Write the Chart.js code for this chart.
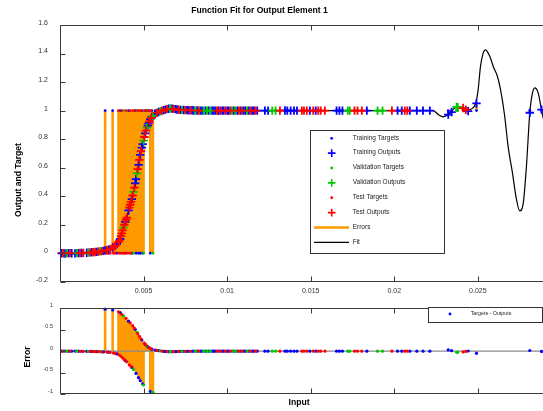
<!DOCTYPE html>
<html>
<head>
<meta charset="utf-8">
<script src="https://cdn.jsdelivr.net/npm/chart.js@4.4.0/dist/chart.umd.min.js"></script>
<style>
    body { margin: 0; background: #fff; }
    canvas { display: block; }
</style>
</head>
<body>
<canvas id="fit_chart" width="543" height="298"></canvas>
<canvas id="error_chart" width="543" height="113"></canvas>
<script>
// axis range and ticks
var xMin = 0;
var xMax = 0.0289;
var xTicks = [0.005, 0.01, 0.015, 0.02, 0.025];
var xTickLabels = ['0.005', '0.01', '0.015', '0.02', '0.025'];
var fitYTicks = [-0.2, 0, 0.2, 0.4, 0.6, 0.8, 1, 1.2, 1.4, 1.6];
var fitYTickLabels = ['-0.2', '0', '0.2', '0.4', '0.6', '0.8', '1', '1.2', '1.4', '1.6'];
var errYTicks = [-1, -0.5, 0, 0.5, 1];
var errYTickLabels = ['-1', '-0.5', '0', '0.5', '1'];

// training set
var trainInput = [
    0.0001, 0.0003, 0.0005, 0.0007, 0.0009, 0.0011, 0.0013, 0.0016, 0.0019, 0.0022, 0.0026,
    0.0027, 0.0029, 0.00315, 0.0034, 0.0036, 0.0039, 0.0041, 0.0043, 0.0045, 0.00455,
    0.0047, 0.0048, 0.0049, 0.00495, 0.0051, 0.00525, 0.0053, 0.0054, 0.0055, 0.0057,
    0.0059, 0.0062, 0.0063, 0.0065, 0.0067, 0.0069, 0.0070, 0.0072, 0.0074, 0.0076,
    0.0077, 0.0079, 0.0080, 0.0082, 0.0084, 0.0085, 0.0087, 0.0089, 0.0091, 0.0092,
    0.0093, 0.0095, 0.0097, 0.0098, 0.0100, 0.0101, 0.0104, 0.0106, 0.0108, 0.0110,
    0.0111, 0.0113, 0.0115, 0.0116, 0.0118,
    0.01226, 0.01245, 0.01346, 0.0136, 0.0138, 0.0140, 0.01418, 0.01495, 0.0153, 0.01655,
    0.01672, 0.0169, 0.01836, 0.0202, 0.02045, 0.02093, 0.02135, 0.02172, 0.02213,
    0.02323, 0.02343, 0.02442, 0.02492, 0.02811, 0.02881
];
var trainTarget = [
    0, 0, 0, 0, 0, 0, 0, 0, 0, 0, 0,
    1, 0, 1, 0, 1, 0, 1, 0, 1, 0,
    0, 0, 1, 0, 1, 1, 1, 0, 1, 1,
    1, 1, 1, 1, 1, 1, 1, 1, 1, 1,
    1, 1, 1, 1, 1, 1, 1, 1, 1, 1,
    1, 1, 1, 1, 1, 1, 1, 1, 1, 1,
    1, 1, 1, 1, 1,
    1, 1, 1, 1, 1, 1, 1, 1, 1, 1,
    1, 1, 1, 1, 1, 1, 1, 1, 1,
    1, 1, 1, 1, 1, 1
];
var trainOutput = [
    0.000, -0.002, 0.001, 0.000, -0.001, 0.001, 0.002, 0.004, 0.007, 0.010, 0.017,
    0.020, 0.025, 0.040, 0.065, 0.100, 0.220, 0.300, 0.380, 0.490, 0.520,
    0.620, 0.690, 0.740, 0.765, 0.840, 0.895, 0.910, 0.940, 0.955, 0.975,
    0.990, 1.003, 1.007, 1.013, 1.014, 1.010, 1.008, 1.005, 1.004, 1.003,
    1.002, 1.002, 1.001, 1.001, 1.000, 1.000, 1.000, 1.000, 1.000, 1.000,
    1.000, 0.999, 1.000, 1.000, 1.000, 1.000, 1.000, 1.000, 1.000, 1.000,
    1.000, 1.000, 1.000, 1.000, 1.000,
    1.000, 1.000, 1.001, 1.000, 1.000, 1.000, 1.000, 1.000, 1.000, 1.000,
    1.000, 1.000, 1.000, 1.000, 1.000, 1.000, 1.000, 1.000, 1.000,
    0.972, 0.990, 0.996, 1.050, 0.985, 1.007
];

// validation set
var valInput = [
    0.0004, 0.0010, 0.0017, 0.0024, 0.0038, 0.0044, 0.0046, 0.0050, 0.0052, 0.00556,
    0.0060, 0.0066, 0.0073, 0.0081, 0.0086, 0.0088, 0.0090, 0.0103, 0.0105, 0.0112,
    0.0127, 0.0129, 0.01722, 0.01734, 0.0190, 0.0193, 0.02373, 0.0238
];
var valTarget = [
    0, 0, 0, 0, 1, 0, 1, 0, 1, 0,
    1, 1, 1, 1, 1, 1, 1, 1, 1, 1,
    1, 1, 1, 1, 1, 1, 1, 1
];
var valOutput = [
    0.000, 0.001, 0.005, 0.013, 0.180, 0.430, 0.560, 0.790, 0.880, 0.962,
    0.995, 1.015, 1.005, 1.001, 1.000, 1.000, 1.000, 1.000, 1.000, 1.000,
    1.000, 1.000, 1.000, 1.000, 1.000, 1.000, 1.026, 1.024
];

// test set
var testInput = [
    0.0002, 0.0006, 0.0012, 0.0014, 0.0018, 0.0020, 0.0021, 0.0023, 0.0025,
    0.0028, 0.0030, 0.0032, 0.0033, 0.0035, 0.00355, 0.00365, 0.0037, 0.00375, 0.00385,
    0.00395, 0.0040, 0.00415, 0.0042, 0.00425, 0.00435, 0.00445, 0.00465, 0.00475, 0.00485,
    0.00505, 0.00515, 0.00535, 0.00545, 0.0058,
    0.0061, 0.0064, 0.0068, 0.0071, 0.0075, 0.0078, 0.0083, 0.0094, 0.0096, 0.0099,
    0.0102, 0.0107, 0.0109, 0.0114, 0.0117,
    0.01316, 0.01447, 0.0146, 0.01477, 0.01515, 0.01545, 0.0156, 0.01585, 0.01762, 0.0178,
    0.01806, 0.01986, 0.02063, 0.02078,
    0.02412, 0.02428
];
var testTarget = [
    0, 0, 0, 0, 0, 0, 0, 0, 0,
    0, 0, 0, 0, 1, 0, 0, 1, 0, 0,
    1, 0, 0, 1, 0, 1, 1, 1, 1, 1,
    1, 1, 1, 1, 1,
    1, 1, 1, 1, 1, 1, 1, 1, 1, 1,
    1, 1, 1, 1, 1,
    1, 1, 1, 1, 1, 1, 1, 1, 1, 1,
    1, 1, 1, 1,
    1, 1
];
var testOutput = [
    0.000, 0.001, 0.002, 0.003, 0.006, 0.008, 0.009, 0.012, 0.015,
    0.022, 0.030, 0.045, 0.050, 0.080, 0.090, 0.120, 0.140, 0.160, 0.200,
    0.235, 0.250, 0.320, 0.340, 0.360, 0.405, 0.460, 0.590, 0.655, 0.715,
    0.815, 0.860, 0.925, 0.948, 0.984,
    0.999, 1.010, 1.012, 1.006, 1.003, 1.002, 1.000, 1.000, 1.000, 1.000,
    1.000, 1.000, 1.000, 1.000, 1.000,
    1.000, 1.000, 1.000, 1.000, 1.000, 1.000, 1.000, 1.000, 1.000, 1.000,
    1.000, 1.000, 1.000, 1.000,
    1.018, 1.006
];

// network fit curve
var fitInput = [
    0, 0.0010, 0.0015, 0.0020, 0.0025, 0.0028, 0.0030, 0.0032, 0.0034, 0.0035,
    0.0036, 0.0037, 0.0038, 0.0039, 0.0040, 0.0041, 0.0042, 0.0043, 0.0044, 0.0045,
    0.0046, 0.0047, 0.0048, 0.0049, 0.0050, 0.0051, 0.0052, 0.0053, 0.0054, 0.0055,
    0.0056, 0.0057, 0.0058, 0.0059, 0.0060, 0.0062, 0.0064, 0.0066, 0.0068, 0.0070,
    0.0075, 0.0080, 0.0090, 0.0120, 0.0160, 0.0200, 0.0220, 0.02233, 0.02263, 0.02293,
    0.02323, 0.02352, 0.02372, 0.02402, 0.02432, 0.02462, 0.02488, 0.02502, 0.02516, 0.02532,
    0.02546, 0.02572, 0.02596, 0.02616, 0.02636, 0.02661, 0.02681, 0.02707, 0.02731, 0.02751,
    0.02771, 0.02791, 0.02811, 0.02825, 0.02841, 0.02861, 0.02881, 0.0290
];
var fitOutput = [
    0.000, 0.001, 0.003, 0.008, 0.015, 0.022, 0.030, 0.045, 0.065, 0.080,
    0.100, 0.140, 0.180, 0.220, 0.250, 0.300, 0.340, 0.380, 0.430, 0.490,
    0.560, 0.620, 0.690, 0.740, 0.790, 0.840, 0.880, 0.910, 0.940, 0.955,
    0.965, 0.975, 0.984, 0.990, 0.995, 1.003, 1.010, 1.015, 1.012, 1.008,
    1.003, 1.001, 1.000, 1.000, 1.000, 1.000, 1.000, 1.000, 0.972, 0.956,
    0.972, 1.007, 1.026, 1.019, 1.000, 1.012, 1.054, 1.147, 1.310, 1.403,
    1.426, 1.379, 1.298, 1.244, 1.147, 0.960, 0.751, 0.565, 0.379, 0.297,
    0.344, 0.612, 0.984, 1.112, 1.159, 1.124, 1.007, 0.900
];

var fontFamily = '"Liberation Sans", Arial, Helvetica, sans-serif';
var blue = '#0000ff';
var green = '#00c800';
var red = '#ff0000';
var orange = '#ff9900';

function points(xs, ys) {
    return xs.map(function (x, i) { return {x: x, y: ys[i]}; });
}

// vertical segments from a[i] to b[i], broken by null points
function segments(xs, a, b) {
    var segs = [];
    xs.forEach(function (x, i) {
        segs.push({x: x, y: a[i]}, {x: x, y: b[i]}, {x: x, y: null});
    });
    return segs;
}

function minus(a, b) {
    return a.map(function (v, i) { return v - b[i]; });
}

var allInput = trainInput.concat(valInput, testInput);
var allTarget = trainTarget.concat(valTarget, testTarget);
var allOutput = trainOutput.concat(valOutput, testOutput);

var trainError = minus(trainTarget, trainOutput);
var valError = minus(valTarget, valOutput);
var testError = minus(testTarget, testOutput);
var allError = trainError.concat(valError, testError);

function dotSet(label, data, color, order, r, inLegend) {
    return {label: label, data: data, legendMark: inLegend ? 'dot' : null, showLine: false, clip: false,
        pointStyle: 'circle', pointRadius: r, pointBackgroundColor: color,
        pointBorderWidth: 0, borderColor: color, backgroundColor: color, order: order};
}

function crossSet(label, data, color, order) {
    return {label: label, data: data, legendMark: 'cross', showLine: false, clip: false,
        pointStyle: 'cross', pointRadius: 4.2, pointBorderColor: color,
        pointBorderWidth: 1.8, borderColor: color, backgroundColor: color, order: order};
}

// axes box with inward ticks, like the original figure
var framePlugin = {
    id: 'frame',
    afterDatasetsDraw: function (chart) {
        var ctx = chart.ctx, a = chart.chartArea;
        var xs = chart.scales.x, ys = chart.scales.y;
        var L = Math.round(a.left) + 0.5, T = Math.round(a.top) + 0.5, B = Math.round(a.bottom) - 0.5;
        ctx.save();
        ctx.strokeStyle = '#3a3a3a';
        ctx.lineWidth = 1;
        ctx.beginPath();
        ctx.moveTo(chart.width, T);
        ctx.lineTo(L, T);
        ctx.lineTo(L, B);
        ctx.lineTo(chart.width, B);
        xs.ticks.forEach(function (t) {
            var px = Math.round(xs.getPixelForValue(t.value)) + 0.5;
            ctx.moveTo(px, T); ctx.lineTo(px, T + 5);
            ctx.moveTo(px, B); ctx.lineTo(px, B - 5);
        });
        ys.ticks.forEach(function (t) {
            var py = Math.round(ys.getPixelForValue(t.value)) + 0.5;
            ctx.moveTo(L, py); ctx.lineTo(L + 5, py);
        });
        ctx.stroke();
        ctx.restore();
    }
};

var textPlugin = {
    id: 'texts',
    afterDraw: function (chart, args, opts) {
        var ctx = chart.ctx;
        opts.items.forEach(function (it) {
            ctx.save();
            ctx.fillStyle = it.color || '#000';
            ctx.font = (it.bold ? 'bold ' : '') + it.size + 'px ' + fontFamily;
            ctx.textAlign = 'center';
            ctx.textBaseline = 'middle';
            ctx.translate(it.x, it.y);
            if (it.rotate) ctx.rotate(-Math.PI / 2);
            ctx.fillText(it.text, 0, 0);
            ctx.restore();
        });
    }
};

var legendPlugin = {
    id: 'boxLegend',
    afterDraw: function (chart, args, o) {
        var ctx = chart.ctx;
        ctx.save();
        ctx.fillStyle = '#fff';
        ctx.fillRect(o.left, o.top, o.right - o.left, o.bottom - o.top);
        ctx.strokeStyle = '#333';
        ctx.lineWidth = 1;
        ctx.strokeRect(o.left + 0.5, o.top + 0.5, o.right - o.left, o.bottom - o.top);
        var row = 0;
        chart.data.datasets.forEach(function (ds) {
            if (!ds.legendMark) return;
            var y = o.firstY + row * o.rowHeight;
            row++;
            if (ds.legendMark === 'dot') {
                ctx.fillStyle = ds.borderColor;
                ctx.beginPath();
                ctx.arc(o.markX, y, 1.4, 0, Math.PI * 2);
                ctx.fill();
            } else if (ds.legendMark === 'cross') {
                ctx.strokeStyle = ds.borderColor;
                ctx.lineWidth = 1.6;
                ctx.beginPath();
                ctx.moveTo(o.markX - 3.8, y); ctx.lineTo(o.markX + 3.8, y);
                ctx.moveTo(o.markX, y - 3.8); ctx.lineTo(o.markX, y + 3.8);
                ctx.stroke();
            } else {
                ctx.strokeStyle = ds.borderColor;
                ctx.lineWidth = ds.borderWidth;
                ctx.beginPath();
                ctx.moveTo(o.lineFrom, y); ctx.lineTo(o.lineTo, y);
                ctx.stroke();
            }
            ctx.fillStyle = '#222';
            ctx.font = o.fontSize + 'px ' + fontFamily;
            ctx.textAlign = 'left';
            ctx.textBaseline = 'middle';
            ctx.fillText(ds.label, o.textX, y - 0.5);
        });
        ctx.restore();
    }
};

function xScale(height, showLabels) {
    return {
        type: 'linear', min: xMin, max: xMax,
        afterBuildTicks: function (s) { s.ticks = xTicks.map(function (v) { return {value: v}; }); },
        afterFit: function (s) { s.height = height; },
        grid: {display: false, drawTicks: false},
        border: {display: false},
        ticks: {display: showLabels, padding: 5, color: '#333', autoSkip: false, maxRotation: 0,
            font: {size: 7, family: fontFamily},
            callback: function (v, i) { return xTickLabels[i]; }}
    };
}

function yScale(min, max, ticks, labels, size, pad, shift) {
    return {
        type: 'linear', min: min, max: max,
        afterBuildTicks: function (s) { s.ticks = ticks.map(function (v) { return {value: v}; }); },
        afterFit: function (s) { s.width = 60; },
        grid: {display: false, drawTicks: false},
        border: {display: false},
        ticks: {padding: pad, labelOffset: shift, color: '#333', autoSkip: false,
            font: {size: size, family: fontFamily},
            callback: function (v, i) { return labels[i]; }}
    };
}

Chart.defaults.font.family = fontFamily;

var fit_chart = new Chart(document.getElementById('fit_chart').getContext('2d'), {
    type: 'scatter',
    data: {
        datasets: [
            dotSet('Training Targets', points(trainInput, trainTarget), blue, 6, 1.4, true),
            crossSet('Training Outputs', points(trainInput, trainOutput), blue, 5),
            dotSet('Validation Targets', points(valInput, valTarget), green, 4, 1.4, true),
            crossSet('Validation Outputs', points(valInput, valOutput), green, 3),
            dotSet('Test Targets', points(testInput, testTarget), red, 2, 1.4, true),
            crossSet('Test Outputs', points(testInput, testOutput), red, 1),
            {label: 'Errors', data: segments(allInput, allTarget, allOutput), legendMark: 'line',
                showLine: true, spanGaps: false, pointRadius: 0, borderColor: orange,
                borderWidth: 2.6, order: 9},
            {label: 'Fit', data: points(fitInput, fitOutput), legendMark: 'line',
                showLine: true, pointRadius: 0, borderColor: '#000', borderWidth: 1.2,
                cubicInterpolationMode: 'monotone', order: 8}
        ]
    },
    options: {
        responsive: false,
        animation: false,
        devicePixelRatio: 1,
        layout: {padding: {top: 25, left: 0, right: 0, bottom: 0}, autoPadding: false},
        scales: {
            x: xScale(15, true),
            y: yScale(-0.2, 1.6, fitYTicks, fitYTickLabels, 7, 12, -2)
        },
        plugins: {
            legend: {display: false},
            tooltip: {enabled: false},
            texts: {items: [
                {text: 'Function Fit for Output Element 1', x: 259.5, y: 11, size: 8.6, bold: true},
                {text: 'Output and Target', x: 18.8, y: 180, size: 8.6, bold: true, rotate: true}
            ]},
            boxLegend: {left: 310, top: 130, right: 444, bottom: 253, firstY: 138.3, rowHeight: 14.86,
                markX: 331.7, textX: 352.7, lineFrom: 314, lineTo: 349, fontSize: 6.5}
        }
    },
    plugins: [framePlugin, textPlugin, legendPlugin]
});

var error_chart = new Chart(document.getElementById('error_chart').getContext('2d'), {
    type: 'scatter',
    data: {
        datasets: [
            dotSet('Targets - Outputs', points(trainInput, trainError), blue, 4, 1.6, true),
            dotSet('Validation Errors', points(valInput, valError), green, 3, 1.6, false),
            dotSet('Test Errors', points(testInput, testError), red, 2, 1.6, false),
            {label: 'Zero Error', data: [{x: xMin, y: 0}, {x: xMax, y: 0}],
                showLine: true, pointRadius: 0, borderColor: '#8a8a8a', borderWidth: 1.2, order: 8},
            {label: 'Errors', data: segments(allInput, allInput.map(function () { return 0; }), allError),
                showLine: true, spanGaps: false, pointRadius: 0, borderColor: orange,
                borderWidth: 2.6, order: 9}
        ]
    },
    options: {
        responsive: false,
        animation: false,
        devicePixelRatio: 1,
        layout: {padding: {top: 4, left: 0, right: 0, bottom: 0}, autoPadding: false},
        scales: {
            x: xScale(17, false),
            y: yScale(-1, 1, errYTicks, errYTickLabels, 5.5, 7, -3)
        },
        plugins: {
            legend: {display: false},
            tooltip: {enabled: false},
            texts: {items: [
                {text: 'Error', x: 27.5, y: 59, size: 8.6, bold: true, rotate: true},
                {text: 'Input', x: 299, y: 105, size: 8.6, bold: true}
            ]},
            boxLegend: {left: 428, top: 9, right: 542, bottom: 24, firstY: 16, rowHeight: 15,
                markX: 450, textX: 470.7, lineFrom: 440, lineTo: 460, fontSize: 5.3}
        }
    },
    plugins: [framePlugin, textPlugin, legendPlugin]
});
</script>
</body>
</html>
